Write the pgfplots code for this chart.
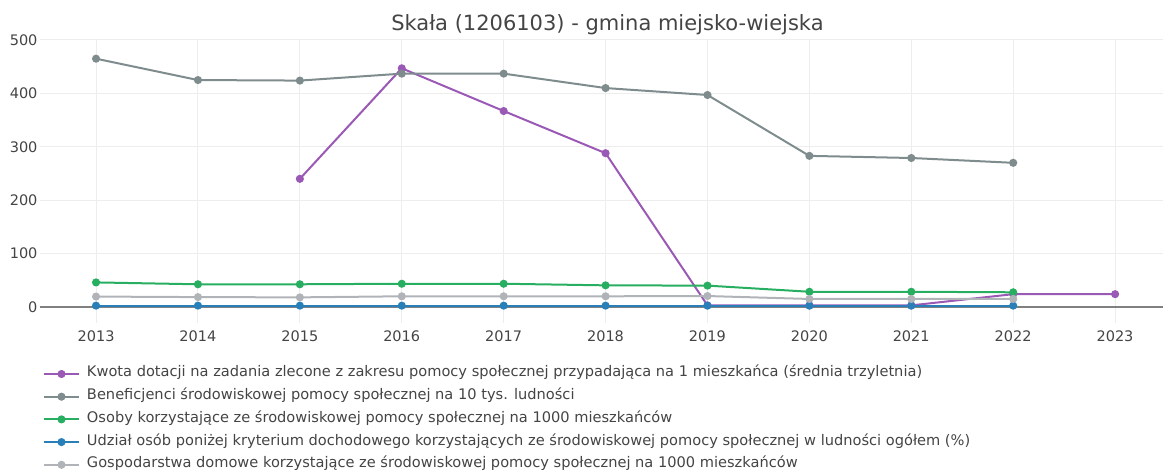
\documentclass[border=0pt]{standalone}
\usepackage{fontspec}
\setmainfont{DejaVu Sans}
\usepackage{pgfplots}
\pgfplotsset{compat=1.18}

\definecolor{cpurple}{HTML}{9B59B6}
\definecolor{cdgray}{HTML}{7F8C8D}
\definecolor{cgreen}{HTML}{27AE60}
\definecolor{cblue}{HTML}{2980B9}
\definecolor{clgray}{HTML}{B0B4B8}
\definecolor{ctext}{HTML}{444444}

\begin{document}
\begin{tikzpicture}[x=1pt,y=1pt]
% page: 1163 x 470, axis box from (40,40) to (1163,323) in image pixels
\clip (-40,-147) rectangle (1123,323);
\begin{axis}[
    at={(0,0)}, anchor=south west,
    scale only axis,
    width=1123pt, height=283pt,
    xmin=2012.45, xmax=2023.47,
    ymin=-30, ymax=500,
    axis x line*=bottom, axis y line*=left,
    axis line style={draw=none},
    xtick={2013,...,2023},
    ytick={0,100,...,500},
    xticklabel style={/pgf/number format/1000 sep={}},
    /pgf/number format/assume math mode=true,
    tick label style={font=\fontsize{14.5}{16}\selectfont, text=ctext},
    xticklabel style={yshift=-4pt},
    yticklabel style={xshift=1pt},
    grid=major,
    major grid style={color=black!7, line width=1pt},
    tick style={draw=none},
    title={Skała (1206103) - gmina miejsko-wiejska},
    title style={font=\fontsize{21}{23}\selectfont, text=ctext,
        at={(axis description cs:0.5053,1)}, anchor=center, yshift=9pt},
    legend style={draw=none, fill=none, inner sep=0pt, outer sep=0pt,
        at={(axis description cs:0,0)}, anchor=north west,
        xshift=3pt, yshift=-44pt,
        font=\fontsize{14.6}{16}\selectfont, text=ctext,
        row sep=8.7pt,
        nodes={text height=10pt, text depth=4pt, inner sep=0pt},
        /tikz/every odd column/.append style={column sep=7pt}},
    legend cell align=left,
    legend image code/.code={
        \draw[mark repeat=2, mark phase=2, #1]
            plot coordinates {(0pt,0pt) (17.5pt,0pt) (35pt,0pt)};
    },
    every axis plot/.append style={line width=2pt, mark=*, mark size=3pt},
    clip=false,
]

% zero line
\addplot[draw=black!50, line width=1.5pt, mark=none, forget plot]
    coordinates {(2012.45,0) (2023.47,0)};

\addplot[cpurple, mark options={fill=cpurple, draw=cpurple}] coordinates {
    (2015,240) (2016,447) (2017,367) (2018,288) (2019,3)
    (2020,3) (2021,3) (2022,24) (2023,24)
};
\addlegendentry{Kwota dotacji na zadania zlecone z zakresu pomocy społecznej przypadająca na 1 mieszkańca (średnia trzyletnia)}

\addplot[cdgray, mark options={fill=cdgray, draw=cdgray}] coordinates {
    (2013,465) (2014,425) (2015,424) (2016,437) (2017,437)
    (2018,410) (2019,397) (2020,283) (2021,279) (2022,270)
};
\addlegendentry{Beneficjenci środowiskowej pomocy społecznej na 10 tys. ludności}

\addplot[cgreen, mark options={fill=cgreen, draw=cgreen}] coordinates {
    (2013,46) (2014,42.5) (2015,42.5) (2016,43.5) (2017,43.5)
    (2018,40.5) (2019,40) (2020,28.5) (2021,28.5) (2022,27.5)
};
\addlegendentry{Osoby korzystające ze środowiskowej pomocy społecznej na 1000 mieszkańców}

\addplot[cblue, mark options={fill=cblue, draw=cblue}] coordinates {
    (2013,2.5) (2014,2.5) (2015,2.5) (2016,2.5) (2017,2.5)
    (2018,2.5) (2019,2.5) (2020,2.5) (2021,2.5) (2022,2.5)
};
\addlegendentry{Udział osób poniżej kryterium dochodowego korzystających ze środowiskowej pomocy społecznej w ludności ogółem (\%)}

\addplot[clgray, mark options={fill=clgray, draw=clgray}] coordinates {
    (2013,19.5) (2014,18.5) (2015,18) (2016,20) (2017,20)
    (2018,20) (2019,20.5) (2020,15) (2021,15) (2022,15)
};
\addlegendentry{Gospodarstwa domowe korzystające ze środowiskowej pomocy społecznej na 1000 mieszkańców}

\end{axis}
\end{tikzpicture}
\end{document}
